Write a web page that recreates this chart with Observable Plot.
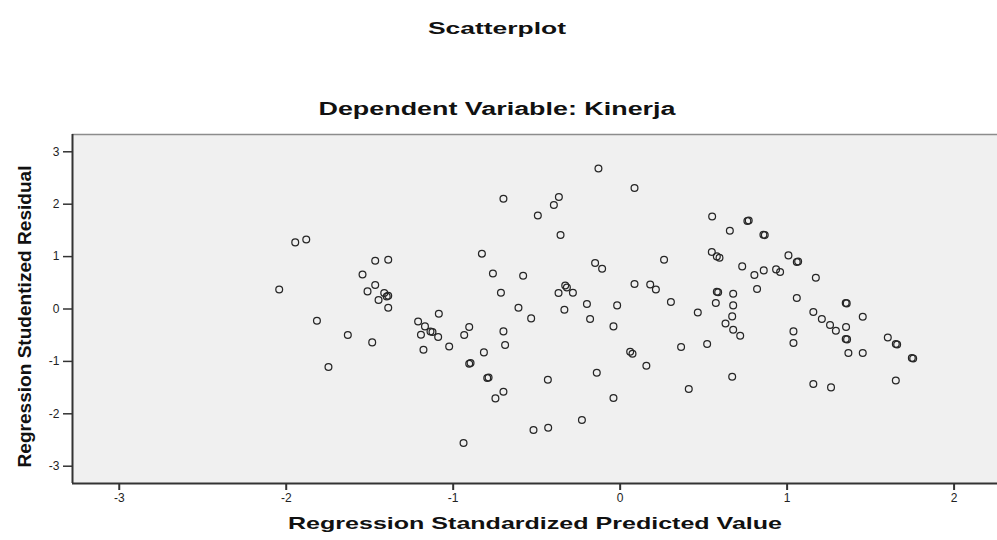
<!DOCTYPE html>
<html>
<head>
<meta charset="utf-8">
<script src="https://cdn.jsdelivr.net/npm/d3@7"></script>
<script src="https://cdn.jsdelivr.net/npm/@observablehq/plot@0.6"></script>
<style>
  html, body { margin: 0; padding: 0; background: #fff; }
</style>
</head>
<body>
<div id="chart"></div>
<script>
const titleText = "Scatterplot";
const subtitleText = "Dependent Variable: Kinerja";
const xLabel = "Regression Standardized Predicted Value";
const yLabel = "Regression Studentized Residual";

const xTicks = [-3, -2, -1, 0, 1, 2];
const yTicks = [-3, -2, -1, 0, 1, 2, 3];
const xDomain = [-3.28, 2.26];
const yDomain = [-3.33, 3.33];

const predicted = [
  -1.946, -1.880, -2.042, -1.467, -1.389, -1.543, -1.467, -1.513, -1.413, -1.389,
  -1.398, -1.447, -1.389, -1.816, -1.631, -1.485, -1.747, -0.828, -0.762, -0.714,
  -1.086, -1.210, -1.169, -1.193, -1.124, -1.136, -1.090, -0.904, -0.934, -1.024,
  -1.178, -0.699, -0.689, -0.816, -0.904, -0.896, -0.796, -0.788, -0.699, -0.747,
  -0.938, -0.699, -0.130, 0.086, -0.367, -0.397, -0.493, -0.357, 0.551, 0.657,
  -0.150, -0.108, 0.263, 0.549, 0.579, 0.595, 0.731, -0.581, -0.329, -0.319,
  -0.369, -0.283, 0.086, 0.180, 0.214, 0.304, 0.579, 0.587, 0.677, 0.573,
  0.677, -0.609, -0.533, -0.334, -0.199, -0.180, -0.018, -0.040, 0.465, 0.671,
  0.631, 0.677, 0.719, 0.060, 0.074, 0.157, 0.365, 0.521, 0.671, -0.433,
  -0.140, 0.411, -0.040, -0.229, -0.519, -0.431, 0.762, 0.770, 0.858, 0.866,
  1.008, 1.058, 1.066, 0.804, 0.860, 0.934, 0.958, 1.172, 0.820, 1.058,
  1.351, 1.357, 1.453, 1.157, 1.208, 1.257, 1.292, 1.353, 1.351, 1.359,
  1.038, 1.038, 1.367, 1.453, 1.603, 1.651, 1.659, 1.747, 1.755, 1.651,
  1.157, 1.263
];
const residual = [
  1.271, 1.328, 0.374, 0.922, 0.941, 0.660, 0.458, 0.336, 0.305, 0.254,
  0.240, 0.172, 0.025, -0.223, -0.496, -0.637, -1.107, 1.055, 0.679, 0.311,
  -0.090, -0.237, -0.332, -0.490, -0.439, -0.428, -0.534, -0.344, -0.496, -0.714,
  -0.777, -0.427, -0.687, -0.828, -1.044, -1.032, -1.317, -1.308, -1.578, -1.706,
  -2.557, 2.105, 2.683, 2.309, 2.137, 1.985, 1.786, 1.412, 1.767, 1.494,
  0.878, 0.769, 0.941, 1.088, 1.004, 0.979, 0.813, 0.635, 0.450, 0.412,
  0.305, 0.311, 0.477, 0.469, 0.374, 0.134, 0.330, 0.318, 0.292, 0.115,
  0.069, 0.025, -0.179, -0.013, 0.095, -0.191, 0.069, -0.332, -0.065, -0.141,
  -0.275, -0.395, -0.510, -0.815, -0.853, -1.082, -0.725, -0.668, -1.292, -1.349,
  -1.216, -1.527, -1.698, -2.118, -2.309, -2.265, 1.679, 1.687, 1.418, 1.410,
  1.023, 0.897, 0.905, 0.649, 0.737, 0.756, 0.706, 0.597, 0.382, 0.210,
  0.115, 0.107, -0.147, -0.057, -0.191, -0.305, -0.414, -0.344, -0.573, -0.580,
  -0.427, -0.649, -0.840, -0.840, -0.542, -0.668, -0.676, -0.935, -0.943, -1.363,
  -1.431, -1.496
];

const points = predicted.map((x, i) => ({x, y: residual[i]}));
const fmt = d => String(d);

const chart = Plot.plot({
  width: 997,
  height: 540,
  marginTop: 134,
  marginBottom: 57,
  marginLeft: 72,
  marginRight: 0,
  style: {fontFamily: "'Liberation Sans', Arial, sans-serif", fontSize: "12px", color: "#222", background: "#fff"},
  x: {domain: xDomain},
  y: {domain: yDomain},
  marks: [
    Plot.frame({fill: "#f0f0f0", stroke: null}),
    Plot.ruleY([yDomain[1]], {stroke: "#8c8c8c", strokeWidth: 1.5}),
    Plot.dot(points, {x: "x", y: "y", r: 3.4, stroke: "#262626", strokeWidth: 1.25, fill: "none"}),
    Plot.axisX({ticks: xTicks, tickSize: 7, tickPadding: 3, tickFormat: fmt, label: null, stroke: "#333", strokeWidth: 2}),
    Plot.axisY({ticks: yTicks, tickSize: 9, tickPadding: 4, tickFormat: fmt, label: null, stroke: "#333", strokeWidth: 1.5}),
    Plot.ruleX([xDomain[0]], {stroke: "#333", strokeWidth: 2}),
    Plot.ruleY([yDomain[0]], {stroke: "#333", strokeWidth: 2}),
    Plot.text([titleText], {text: d => d, frameAnchor: "top", textAnchor: "middle", dx: -38, dy: -112, fontWeight: "bold", fontSize: 16, fill: "#111"}),
    Plot.text([subtitleText], {text: d => d, frameAnchor: "top", textAnchor: "middle", dx: -38, dy: -32, fontWeight: "bold", fontSize: 18, fill: "#111"}),
    Plot.text([xLabel], {text: d => d, frameAnchor: "bottom", textAnchor: "middle", dx: 0, dy: 45, fontWeight: "bold", fontSize: 17, fill: "#111"}),
    Plot.text([yLabel], {text: d => d, frameAnchor: "left", textAnchor: "middle", dx: -48, dy: 7.5, rotate: -90, fontWeight: "bold", fontSize: 19, fill: "#111"})
  ]
});

const lengths = {};
lengths[titleText] = 138;
lengths[subtitleText] = 357;
lengths[xLabel] = 494;
lengths[yLabel] = 302;
d3.select(chart).selectAll("text").each(function() {
  const t = this.textContent;
  if (lengths[t]) {
    this.setAttribute("textLength", lengths[t]);
    this.setAttribute("lengthAdjust", "spacingAndGlyphs");
  }
});

document.getElementById("chart").appendChild(chart);
</script>
</body>
</html>
